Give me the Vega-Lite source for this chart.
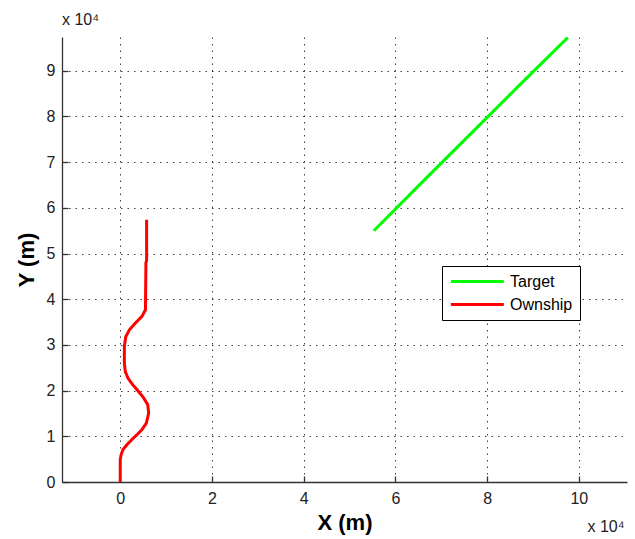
{
  "$schema": "https://vega.github.io/schema/vega-lite/v6.json",
  "width": 565,
  "height": 445,
  "autosize": {"type": "none"},
  "padding": {"left": 62, "top": 37, "right": 8, "bottom": 57},
  "background": "white",
  "title": {"text": "x 10⁴", "anchor": "start", "frame": "group", "fontSize": 16, "fontWeight": "normal", "font": "Liberation Sans", "color": "#222", "offset": 9},
  "data": {
    "values": [
      {"series": "Target", "i": 0, "x": 55300, "y": 55000},
      {"series": "Target", "i": 1, "x": 66000, "y": 65800},
      {"series": "Target", "i": 2, "x": 76500, "y": 76300},
      {"series": "Target", "i": 3, "x": 87000, "y": 86800},
      {"series": "Target", "i": 4, "x": 97600, "y": 97300},
      {"series": "Ownship", "i": 0, "x": 0, "y": 0},
      {"series": "Ownship", "i": 1, "x": 0, "y": 4900},
      {"series": "Ownship", "i": 2, "x": 200, "y": 6000},
      {"series": "Ownship", "i": 3, "x": 600, "y": 7100},
      {"series": "Ownship", "i": 4, "x": 1450, "y": 8150},
      {"series": "Ownship", "i": 5, "x": 2500, "y": 9250},
      {"series": "Ownship", "i": 6, "x": 3600, "y": 10300},
      {"series": "Ownship", "i": 7, "x": 4700, "y": 11400},
      {"series": "Ownship", "i": 8, "x": 5700, "y": 12900},
      {"series": "Ownship", "i": 9, "x": 6200, "y": 15100},
      {"series": "Ownship", "i": 10, "x": 6000, "y": 16900},
      {"series": "Ownship", "i": 11, "x": 5100, "y": 18400},
      {"series": "Ownship", "i": 12, "x": 4000, "y": 19800},
      {"series": "Ownship", "i": 13, "x": 2700, "y": 21300},
      {"series": "Ownship", "i": 14, "x": 1700, "y": 22700},
      {"series": "Ownship", "i": 15, "x": 1100, "y": 24200},
      {"series": "Ownship", "i": 16, "x": 900, "y": 26000},
      {"series": "Ownship", "i": 17, "x": 900, "y": 29700},
      {"series": "Ownship", "i": 18, "x": 1200, "y": 31800},
      {"series": "Ownship", "i": 19, "x": 2000, "y": 33300},
      {"series": "Ownship", "i": 20, "x": 3300, "y": 34800},
      {"series": "Ownship", "i": 21, "x": 4700, "y": 36200},
      {"series": "Ownship", "i": 22, "x": 5500, "y": 37700},
      {"series": "Ownship", "i": 23, "x": 5600, "y": 48000},
      {"series": "Ownship", "i": 24, "x": 5750, "y": 48500},
      {"series": "Ownship", "i": 25, "x": 5750, "y": 57400}
    ]
  },
  "layer": [
    {
      "mark": {"type": "line", "strokeWidth": 3, "clip": true},
      "encoding": {
        "x": {
          "field": "x", "type": "quantitative",
          "scale": {"domain": [-12700, 110500], "nice": false, "zero": false},
          "axis": {"values": [0, 20000, 40000, 60000, 80000, 100000], "labelExpr": "datum.value/10000", "title": "X (m)", "titlePadding": 6, "labelPadding": 14}
        },
        "y": {
          "field": "y", "type": "quantitative",
          "scale": {"domain": [0, 97400], "nice": false, "zero": false},
          "axis": {"values": [0, 10000, 20000, 30000, 40000, 50000, 60000, 70000, 80000, 90000], "labelExpr": "datum.value/10000", "title": "Y (m)", "titlePadding": 8, "labelPadding": 13}
        },
        "color": {
          "field": "series", "type": "nominal",
          "scale": {"domain": ["Target", "Ownship"], "range": ["#00ff00", "#ff0000"]},
          "legend": {"orient": "none", "legendX": 380, "legendY": 229, "title": null, "strokeColor": "#000", "fillColor": "#fff", "padding": 7, "symbolType": "M-1,0H7", "symbolSize": 175, "symbolStrokeWidth": 3, "labelFontSize": 16, "labelFont": "Liberation Sans", "labelColor": "#000", "rowPadding": 6, "labelOffset": 44}
        },
        "order": {"field": "i", "type": "quantitative"}
      }
    },
    {
      "mark": {"type": "point", "opacity": 0},
      "encoding": {
        "x": {
          "field": "x", "type": "quantitative",
          "axis": {"orient": "top", "domain": false, "ticks": false, "labels": false, "grid": false, "title": "x 10⁴", "titleX": 525, "titleY": 494, "titleAlign": "left", "titleBaseline": "alphabetic", "titleFontSize": 16, "titleFontWeight": "normal", "titleColor": "#222"}
        }
      }
    }
  ],
  "resolve": {"axis": {"x": "independent"}},
  "config": {
    "view": {"stroke": null},
    "axis": {
      "domainColor": "#333", "domainWidth": 1.3,
      "tickColor": "#333", "tickSize": -6, "tickWidth": 1.3,
      "labelFont": "Liberation Sans", "labelFontSize": 16, "labelColor": "#222",
      "grid": true, "gridColor": "#000", "gridDash": [1.5, 5], "gridWidth": 1, "gridOpacity": 0.75,
      "titleFont": "Liberation Sans", "titleFontSize": 22, "titleFontWeight": "bold", "titleColor": "#000"
    }
  }
}
